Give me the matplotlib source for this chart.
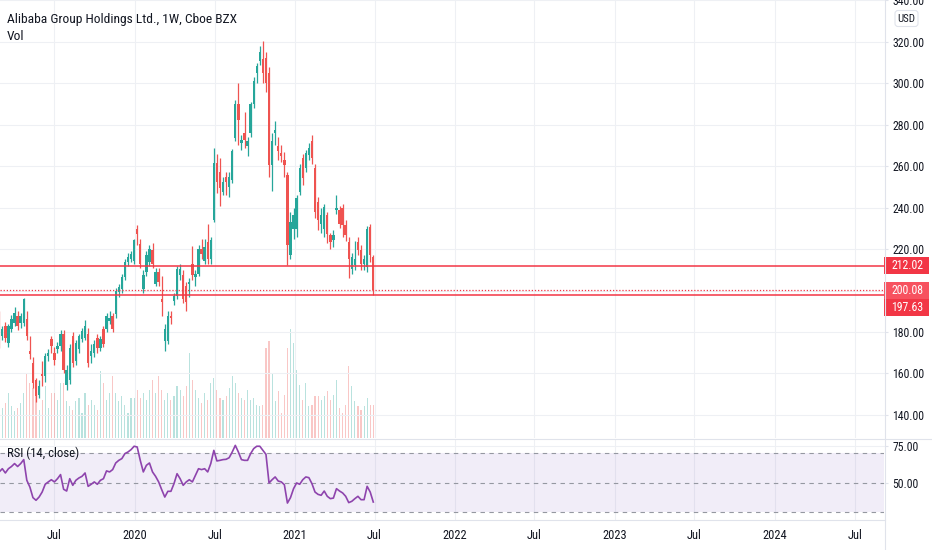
import datetime as dt
import matplotlib
matplotlib.use("Agg")
import matplotlib.pyplot as plt
import matplotlib.dates as mdates
from matplotlib import font_manager
from matplotlib.patches import Rectangle, FancyBboxPatch
import numpy as np

# ---- data (weekly candles) ----
first_week = dt.date(2019, 2, 25)

opens = [187.8, 178.1, 182.9, 174.8, 181.3, 184.5, 187.8, 184.5, 184.5, 186.2,
         170.8, 165.1, 157.0, 149.7, 159.5, 158.7, 168.4, 176.4, 170.0, 171.6,
         173.2, 178.9, 154.6, 157.0, 178.1, 166.0, 171.6, 176.4, 177.3, 178.9,
         168.4, 170.0, 177.3, 172.4, 181.3, 181.3, 185.3, 187.8, 188.6, 199.1,
         200.7, 206.4, 213.7, 215.3, 214.5, 229.9, 222.6, 200.8, 208.9, 213.7,
         219.4, 203.2, 208.9, 195.9, 175.7, 175.7, 187.8, 195.1, 197.5, 207.3,
         207.3, 202.4, 203.2, 212.9, 206.4, 208.1, 220.2, 214.5, 223.4, 215.3,
         234.0, 261.5, 257.4, 247.7, 255.0, 250.1, 253.4, 273.6, 289.8, 271.2,
         276.0, 269.6, 276.0, 289.8, 305.0, 310.8, 311.6, 312.4, 305.2, 260.7,
         276.0, 269.6, 266.3, 263.1, 255.8, 217.0, 229.9, 229.9, 247.7, 263.9,
         259.0, 265.5, 272.0, 259.0, 242.9, 232.3, 229.9, 236.4, 226.7, 224.3,
         238.8, 238.8, 239.6, 231.5, 223.4, 210.5, 212.1, 223.4, 219.4, 212.9,
         211.3, 230.7, 216.0]
highs = [190, 183, 185, 184, 188, 192, 190, 189, 196.5, 190,
         178, 168, 158, 157, 166, 170, 172, 178, 173, 175,
         181, 181, 164, 174, 180, 176, 179, 182, 186, 182,
         174, 176, 179, 178, 183, 189, 190, 189, 201, 203,
         208, 215, 218, 219, 225, 231.5, 225, 210, 219, 222,
         223, 211, 211, 207, 184, 190, 190, 199, 212, 213,
         210, 204, 206, 221.5, 210, 222, 225, 225, 232, 226,
         268.7, 266, 264, 255, 257, 257, 268.5, 292, 300.3, 275,
         286, 274, 291, 303, 310, 318, 320.5, 315, 308, 276,
         281.7, 274, 270, 267, 257, 238, 240, 246, 261, 266,
         268, 271, 275.2, 261, 245, 240, 242, 238, 228, 229,
         246, 241, 242, 234, 226, 218, 224, 226, 222, 217,
         231, 232, 217]
lows = [172.4, 176, 175, 173, 180, 183, 181, 182, 183, 176,
        167, 153, 146, 148, 153.8, 156, 166, 170, 164, 170,
        171, 160, 152, 155, 163, 164, 170, 175, 176, 163,
        165, 168, 170, 171, 173, 180, 184, 180, 187, 197,
        199, 205, 212, 214, 213, 222, 211, 199, 207, 212,
        211, 202, 202, 187.8, 170.9, 174, 184, 193, 196, 205,
        194, 190, 197, 205, 202, 207, 215, 213, 213, 213,
        233, 247, 241, 246, 246, 245, 252, 272, 270, 268,
        269, 265, 274, 288, 300, 309, 300, 296, 255, 248,
        270, 263, 262, 255, 212.1, 215, 225, 226, 246, 251,
        257, 263, 261, 235, 229, 228, 226, 223, 220, 221,
        237, 230, 226, 224, 206, 208, 210, 217, 210, 210,
        209, 214, 197.63]
closes = [175.6, 181.3, 177.3, 182.9, 186.2, 189.4, 182.9, 187.8, 195.9, 178.1,
          169.2, 155.4, 148.9, 153.8, 158.7, 168.4, 170.0, 173.2, 166.7, 173.2,
          178.9, 161.9, 161.9, 172.4, 165.1, 174.8, 178.1, 180.5, 182.9, 165.1,
          170.8, 174.0, 172.4, 176.4, 174.0, 187.8, 187.0, 181.3, 199.9, 201.5,
          206.4, 213.7, 216.2, 217.8, 224.3, 227.5, 212.9, 207.3, 217.0, 220.2,
          212.9, 208.9, 204.0, 194.3, 181.4, 187.8, 187.0, 197.5, 210.5, 210.5,
          195.9, 194.3, 204.0, 207.3, 208.1, 220.2, 217.8, 221.0, 215.3, 224.3,
          261.5, 252.6, 249.3, 252.6, 252.6, 255.0, 267.1, 289.8, 282.5, 272.8,
          272.8, 272.0, 289.8, 301.1, 308.4, 314.9, 305.2, 300.3, 260.7, 272.0,
          277.6, 267.1, 264.7, 260.7, 221.8, 233.1, 236.4, 244.5, 259.0, 254.2,
          266.3, 268.7, 263.9, 238.0, 234.0, 236.4, 240.4, 227.5, 223.4, 226.7,
          239.6, 232.3, 231.5, 226.7, 215.3, 216.2, 215.3, 219.4, 212.9, 215.3,
          229.9, 217.0, 200.08]
# weekly volume, millions
volumes = [70, 60, 70, 90, 64, 54, 60, 70, 90, 130,
           110, 100, 86, 56, 76, 104, 60, 90, 90, 76,
           110, 110, 74, 64, 56, 74, 80, 50, 90, 66,
           76, 66, 56, 134, 110, 76, 90, 124, 90, 74,
           84, 66, 50, 80, 80, 96, 80, 90, 76, 96,
           116, 90, 124, 96, 76, 90, 76, 84, 104, 96,
           84, 104, 170, 116, 96, 80, 70, 90, 76, 110,
           120, 96, 80, 76, 84, 100, 124, 110, 90, 80,
           76, 96, 76, 80, 66, 64, 66, 180, 194, 130,
           74, 94, 50, 86, 180, 218, 190, 136, 106, 76,
           110, 64, 66, 84, 84, 76, 84, 94, 76, 86,
           116, 60, 50, 66, 144, 104, 74, 64, 56, 64,
           80, 66, 66]
rsi = [57.3, 59.5, 56.6, 59.5, 61, 63, 61, 63, 65.7, 51.6,
       47, 39.8, 38, 40.2, 43.6, 48.9, 50.5, 52, 50.5, 52.7,
       55.5, 45.5, 44.3, 52.7, 48.2, 51.6, 53.2, 54.3, 56.6, 47.5,
       48.9, 50.5, 48.9, 51.6, 52.7, 58, 57.3, 58.9, 63.4, 65.2,
       66.4, 69.8, 70.9, 72.5, 74.8, 74.3, 65.2, 57.3, 61.8, 63.4,
       57.3, 54.3, 50.5, 45.2, 40.2, 44.1, 44.1, 49.3, 56.1, 52.7,
       48.2, 50.5, 52, 50.5, 55, 59.5, 58.9, 59.5, 57.3, 63,
       72, 64.8, 65.2, 65.7, 65.9, 67, 70.9, 75.4, 70.9, 65.7,
       65.2, 65.2, 69.8, 73.2, 74.8, 74.8, 72, 69.3, 49.8, 52,
       53.9, 51.1, 50.5, 48.6, 36.1, 39.8, 45.9, 49.8, 48.9, 52,
       53.9, 53.4, 49.3, 43.6, 42, 41.4, 44.3, 40.7, 39.1, 39.5,
       45.9, 44.3, 43, 40.7, 36.4, 37.3, 39.1, 40.7, 38.4, 38.4,
       47.5, 43.6, 36.8]

level_lines = [212.02, 197.63]
last_close = 200.08
price_ticks = [140, 160, 180, 220, 240, 260, 280, 300, 320, 340]
rsi_ticks = [75, 50]
rsi_band = (30, 70)
time_ticks = ["2019-07-01", "2020-01-01", "2020-07-01", "2021-01-01", "2021-07-01",
              "2022-01-01", "2022-07-01", "2023-01-01", "2023-07-01", "2024-01-01",
              "2024-07-01"]
time_labels = ["Jul", "2020", "Jul", "2021", "Jul", "2022", "Jul", "2023", "Jul",
               "2024", "Jul"]
title = "Alibaba Group Holdings Ltd., 1W, Cboe BZX"

# ---- style ----
names = {f.name for f in font_manager.fontManager.ttflist}
family = next((f for f in ["Liberation Sans Narrow", "Roboto Condensed", "Liberation Sans"]
               if f in names), "DejaVu Sans")
plt.rcParams["font.family"] = [family, "DejaVu Sans"]

TEXT = "#131722"
GRID = "#eef0f4"
SEP = "#e0e3eb"
UP = "#26a69a"
DOWN = "#ef5350"
LINE_RED = "#f23645"

W, H = 932, 550


def rect(l, t, r, b):
    # pixel box (top-left origin) -> figure fraction
    return [l / W, 1 - b / H, (r - l) / W, (b - t) / H]


fig = plt.figure(figsize=(W / 100, H / 100), dpi=100)
fig.patch.set_facecolor("white")

vol_ax = fig.add_axes(rect(0, 0, 884, 437.5))
ax = fig.add_axes(rect(0, 0, 884, 437.5), sharex=vol_ax)
rsi_ax = fig.add_axes(rect(0, 439.5, 884, 519.5), sharex=vol_ax)
ax.set_zorder(2)
ax.patch.set_visible(False)

o = np.array(opens); h = np.array(highs); lo = np.array(lows); c = np.array(closes)
dates = [first_week + dt.timedelta(weeks=i) for i in range(len(c))]
x = mdates.date2num(dates)
up = c >= o
colors = np.where(up, UP, DOWN)

# volume
vol_colors = [(0.149, 0.651, 0.604, 0.32) if u else (0.937, 0.325, 0.314, 0.32) for u in up]
vol_ax.bar(x, volumes, width=2.6, color=vol_colors, linewidth=0)
vol_ax.set_ylim(0, 875)

# candles
ax.vlines(x, lo, h, colors=colors, linewidth=0.9)
body_lo = np.minimum(o, c)
body_h = np.maximum(np.abs(c - o), 0.6)
ax.bar(x, body_h, bottom=body_lo, width=5.4, color=colors, linewidth=0)

# horizontal levels
for lvl in level_lines:
    ax.axhline(lvl, color=LINE_RED, linewidth=1.1, zorder=3)
ax.axhline(last_close, color=LINE_RED, linewidth=0.9, linestyle=(0, (1, 1.5)), zorder=3)

x0 = mdates.date2num(dt.date(2020, 1, 1)) - 135 / 0.438
x1 = mdates.date2num(dt.date(2020, 1, 1)) + (884 - 135) / 0.438
vol_ax.set_xlim(x0, x1)
ax.set_ylim(129.1, 340.2)

tick_x = mdates.date2num([dt.date.fromisoformat(t) for t in time_ticks])

for a in (vol_ax, ax, rsi_ax):
    for s in a.spines.values():
        s.set_visible(False)

vol_ax.set_yticks([])
vol_ax.tick_params(axis="x", bottom=False, labelbottom=False)
for t in tick_x:
    vol_ax.axvline(t, color=GRID, linewidth=0.8, zorder=0)

ax.yaxis.tick_right()
ax.set_yticks(price_ticks)
ax.set_yticklabels([f"{t:.2f}" for t in price_ticks])
ax.tick_params(axis="y", length=3, color=SEP, pad=3, labelsize=8.5, labelcolor=TEXT)
ax.tick_params(axis="x", bottom=False, labelbottom=False)
for t in price_ticks + [200]:
    ax.axhline(t, color=GRID, linewidth=0.8, zorder=0)

# RSI pane
rsi_ax.axhspan(rsi_band[0], rsi_band[1], color="#7e57c2", alpha=0.1, linewidth=0)
for lvl in (rsi_band[1], 50, rsi_band[0]):
    rsi_ax.axhline(lvl, color="#9598a1", linewidth=0.8, linestyle=(0, (4, 4)))
for t in tick_x:
    rsi_ax.axvline(t, color=GRID, linewidth=0.8, zorder=0)
rsi_ax.axhline(75, color=GRID, linewidth=0.8, zorder=0)
rsi_ax.plot(x, rsi, color="#8e44ad", linewidth=1.2)
rsi_ax.set_ylim(24.9, 79.4)
rsi_ax.yaxis.tick_right()
rsi_ax.set_yticks(rsi_ticks)
rsi_ax.set_yticklabels([f"{t:.2f}" for t in rsi_ticks])
rsi_ax.tick_params(axis="y", length=3, color=SEP, pad=3, labelsize=8.5, labelcolor=TEXT)
rsi_ax.set_xticks(tick_x)
rsi_ax.set_xticklabels(time_labels)
rsi_ax.tick_params(axis="x", length=0, pad=6.5, labelsize=9, labelcolor=TEXT)

# overlay in pixel coordinates for separators and price labels
ov = fig.add_axes([0, 0, 1, 1], zorder=5)
ov.set_xlim(0, W)
ov.set_ylim(H, 0)
ov.axis("off")
ov.patch.set_visible(False)
ov.plot([884.5, 884.5], [0, H], color=SEP, linewidth=0.8)
ov.plot([0, W], [438.5, 438.5], color=SEP, linewidth=0.8)
ov.plot([0, 884.5], [519.5, 519.5], color=SEP, linewidth=0.8)

ov.add_patch(FancyBboxPatch((895, 10.5), 23, 16, boxstyle="round,pad=0,rounding_size=3",
                            facecolor="white", edgecolor=SEP, linewidth=0.8))
ov.text(906.5, 18.8, "USD", ha="center", va="center", fontsize=7.8, color=TEXT)

labels = [(lvl, LINE_RED) for lvl in level_lines] + [(last_close, "#f7525f")]
placed = []
for val, col in labels:
    ypix = H - ax.transData.transform((x0, val))[1]
    placed.append([ypix, val, col])
placed.sort()
prev_bottom = -1e9
for ypix, val, col in placed:
    top = max(ypix - 8.5, prev_bottom)
    ov.add_patch(Rectangle((884, top), 45, 17, facecolor=col, edgecolor="none"))
    ov.text(891, top + 8.8, f"{val:.2f}", ha="left", va="center", fontsize=8.5, color="white")
    prev_bottom = top + 17

fig.text(7 / W, 1 - 19 / H, title, ha="left", va="center", fontsize=9.7, color=TEXT)
fig.text(7 / W, 1 - 37 / H, "Vol", ha="left", va="center", fontsize=9.7, color=TEXT)
fig.text(7 / W, 1 - 453 / H, "RSI (14, close)", ha="left", va="center", fontsize=9.2,
         color=TEXT, zorder=6)

fig.savefig("out.png", dpi=100, facecolor="white")
